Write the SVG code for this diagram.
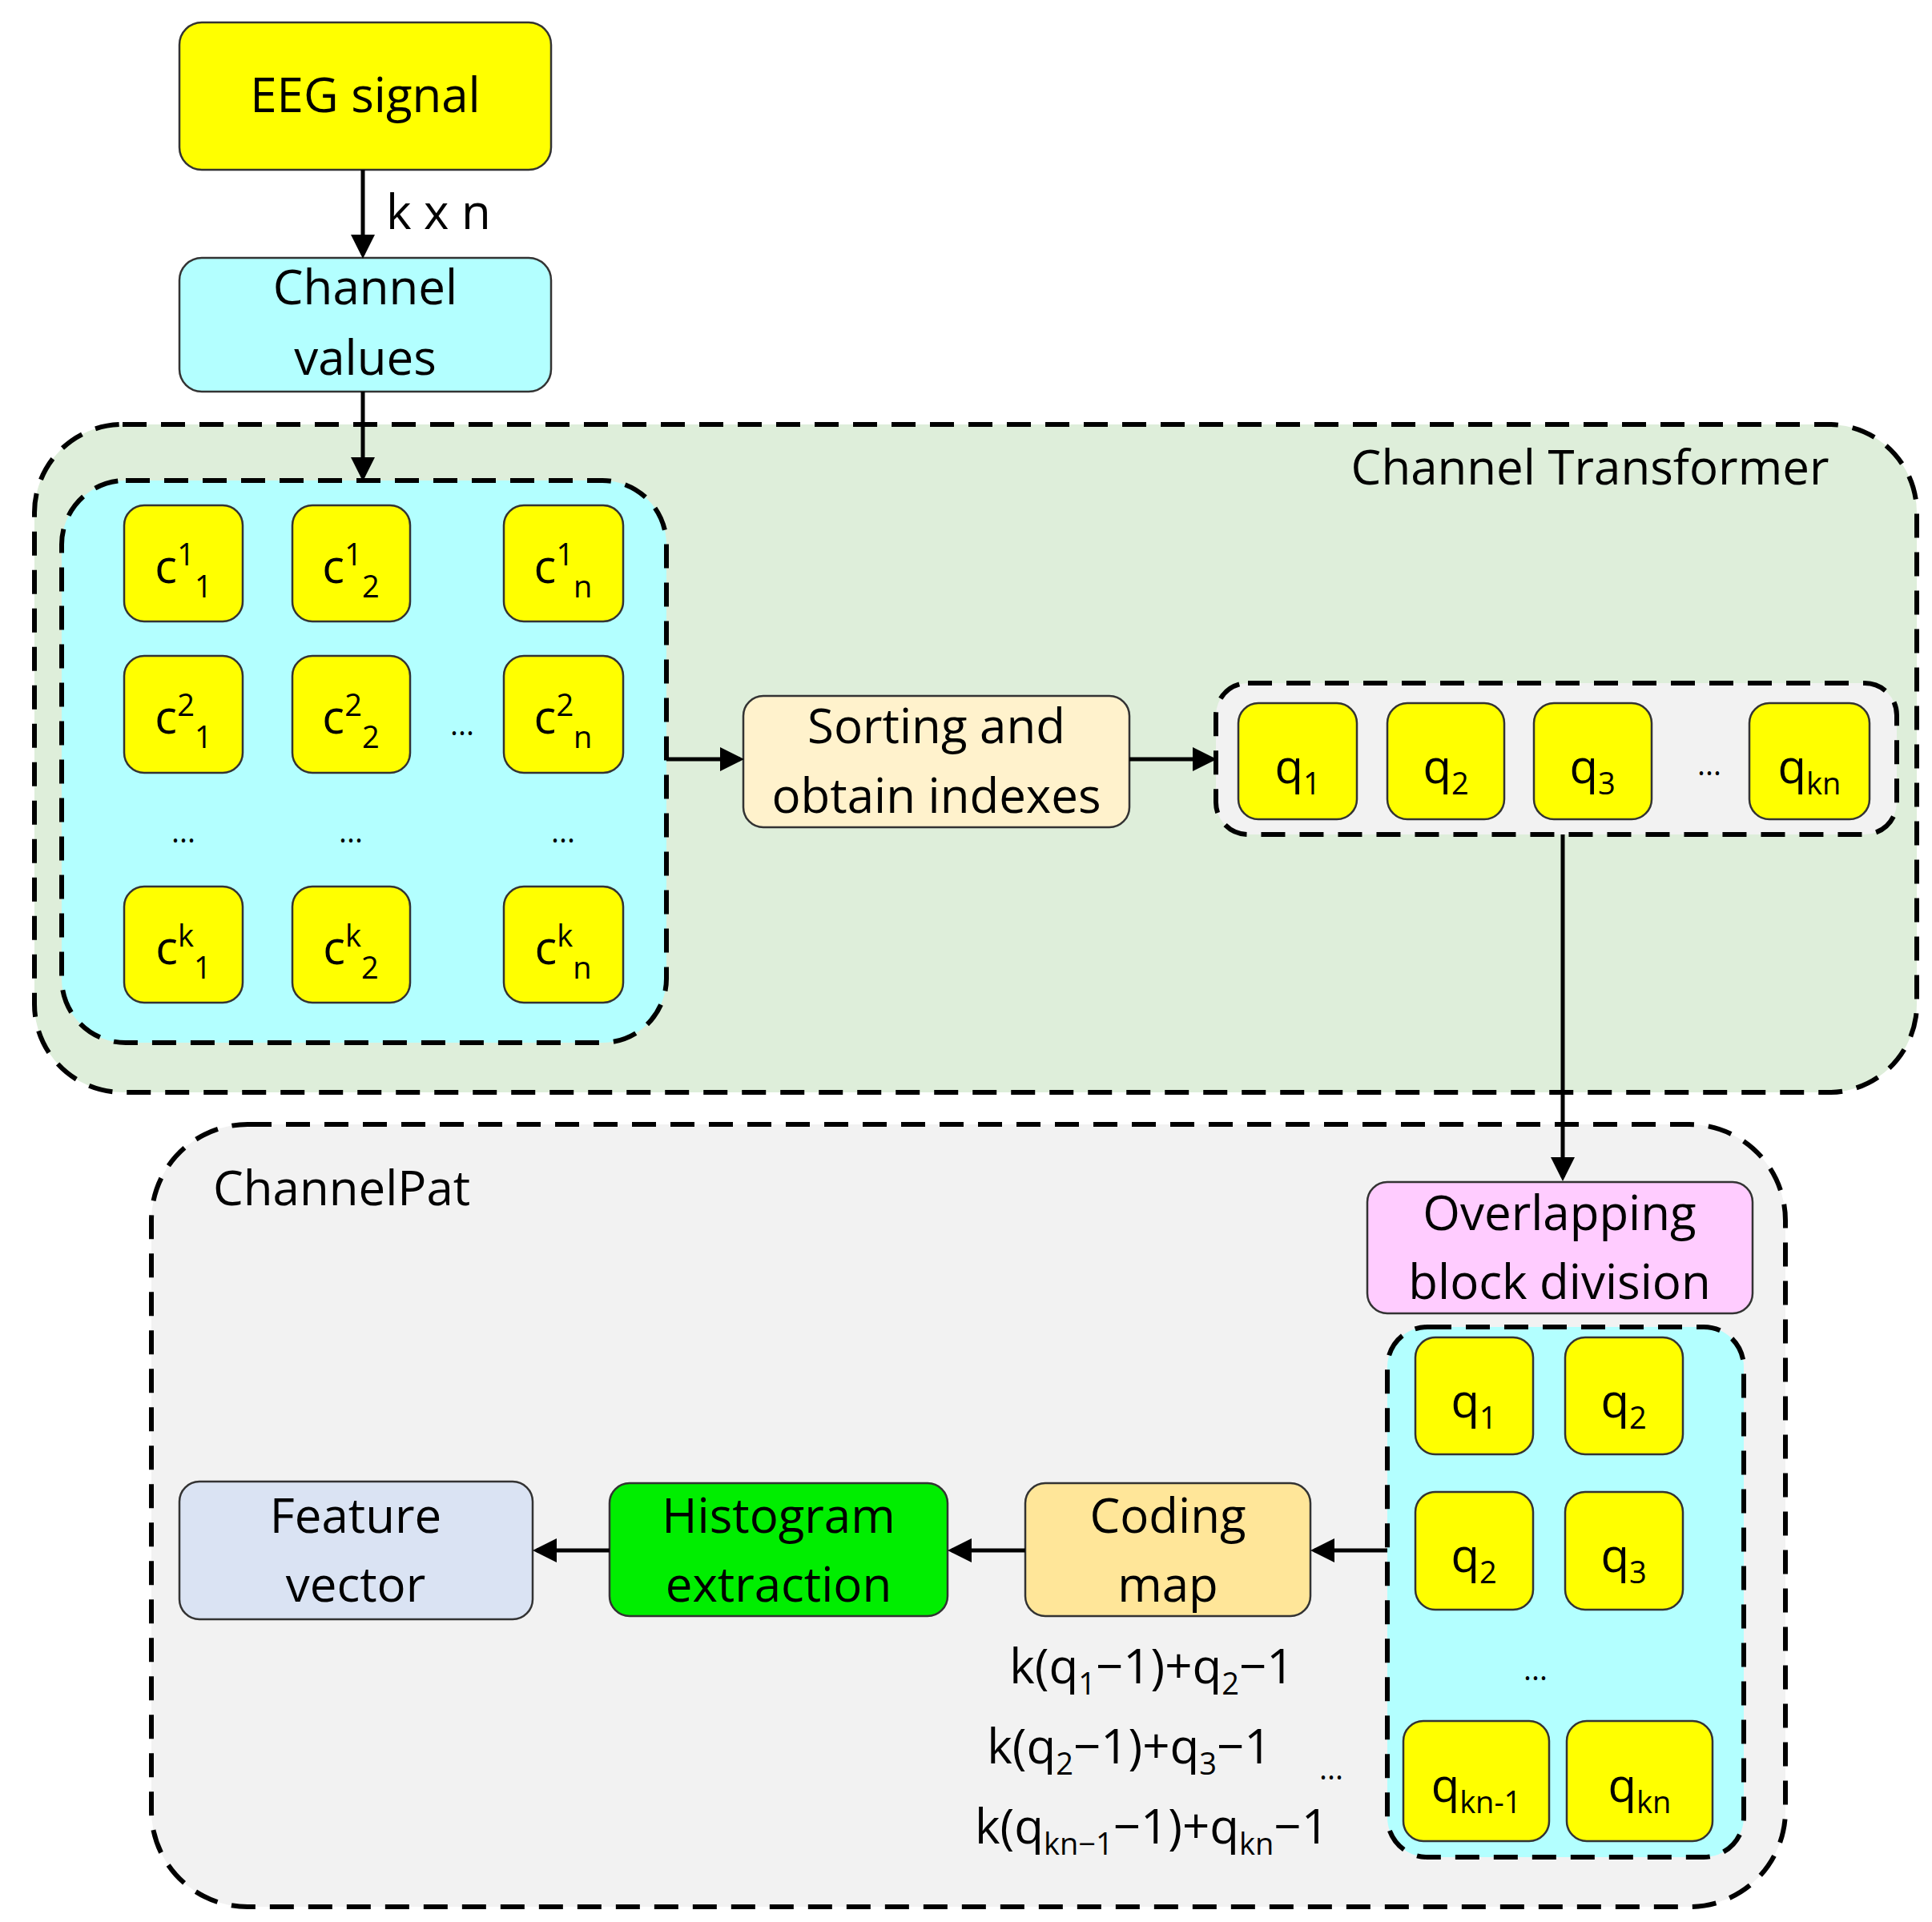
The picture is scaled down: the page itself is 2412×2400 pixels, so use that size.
<svg xmlns="http://www.w3.org/2000/svg" width="2412" height="2400" viewBox="0 0 2412 2400">
<style>
text{font-family:"Open Sans","Liberation Sans",sans-serif;fill:#000;text-anchor:middle}
.b{stroke:#333;stroke-width:2.5}
.y{fill:#ffff00;stroke:#333;stroke-width:2.5}
.d{stroke:#000;stroke-width:6;stroke-dasharray:30 18;fill-rule:nonzero}
.t{font-size:60px}
.c{font-size:58px}
.s{font-size:38px}
.a{stroke:#000;stroke-width:5;fill:none;marker-end:url(#ah)}
</style>
<defs><marker id="ah" markerWidth="6" markerHeight="6" refX="5" refY="3" orient="auto" markerUnits="strokeWidth"><path d="M0,0L6,3L0,6z" fill="#000"/></marker></defs>
<rect width="2412" height="2400" fill="#fff"/>
<g id="channel-transformer"><rect x="43" y="530" width="2350" height="834" rx="110" fill="#deeeda" class="d"/><text x="1985" y="605" class="t" style="text-anchor:middle">Channel Transformer</text></g>
<g id="channelpat"><rect x="189" y="1404" width="2040" height="977" rx="120" fill="#f2f2f2" class="d"/><text x="266" y="1505" class="t" style="text-anchor:start">ChannelPat</text></g>
<g id="eeg"><rect x="224" y="28" width="464" height="184" rx="28" class="y"/><text x="456" y="140" class="t">EEG signal</text></g>
<g id="channel-values"><rect x="224" y="322" width="464" height="167" rx="28" fill="#b3ffff" class="b"/><text x="456" y="380" class="t">Channel</text><text x="456" y="468" class="t">values</text></g>
<g id="matrix"><rect x="77" y="600" width="755" height="702" rx="80" fill="#b3ffff" class="d"/>
<g class="c">
<rect x="155" y="631" width="148" height="145" rx="25" class="y"/><text x="229" y="728" class="c">c<tspan class="s" dy="-22">1</tspan><tspan class="s" dy="40">1</tspan></text>
<rect x="365" y="631" width="147" height="145" rx="25" class="y"/><text x="438" y="728" class="c">c<tspan class="s" dy="-22">1</tspan><tspan class="s" dy="40">2</tspan></text>
<rect x="629" y="631" width="149" height="145" rx="25" class="y"/><text x="703" y="728" class="c">c<tspan class="s" dy="-22">1</tspan><tspan class="s" dy="40">n</tspan></text>
<rect x="155" y="819" width="148" height="146" rx="25" class="y"/><text x="229" y="916" class="c">c<tspan class="s" dy="-22">2</tspan><tspan class="s" dy="40">1</tspan></text>
<rect x="365" y="819" width="147" height="146" rx="25" class="y"/><text x="438" y="916" class="c">c<tspan class="s" dy="-22">2</tspan><tspan class="s" dy="40">2</tspan></text>
<rect x="629" y="819" width="149" height="146" rx="25" class="y"/><text x="703" y="916" class="c">c<tspan class="s" dy="-22">2</tspan><tspan class="s" dy="40">n</tspan></text>
<rect x="155" y="1107" width="148" height="145" rx="25" class="y"/><text x="229" y="1204" class="c">c<tspan class="s" dy="-22">k</tspan><tspan class="s" dy="40">1</tspan></text>
<rect x="365" y="1107" width="147" height="145" rx="25" class="y"/><text x="438" y="1204" class="c">c<tspan class="s" dy="-22">k</tspan><tspan class="s" dy="40">2</tspan></text>
<rect x="629" y="1107" width="149" height="145" rx="25" class="y"/><text x="703" y="1204" class="c">c<tspan class="s" dy="-22">k</tspan><tspan class="s" dy="40">n</tspan></text>
</g>
<text x="577" y="918" class="s">...</text><text x="229" y="1052" class="s">...</text><text x="438" y="1052" class="s">...</text><text x="703" y="1052" class="s">...</text>
</g>
<g id="sorting"><rect x="928" y="869" width="482" height="164" rx="25" fill="#fff2cc" class="b"/><text x="1169" y="928" class="t">Sorting and</text><text x="1169" y="1015" class="t">obtain indexes</text></g>
<g id="q-row"><rect x="1518" y="853" width="850" height="189" rx="40" fill="#f2f2f2" class="d"/>
<rect x="1546" y="878" width="148" height="145" rx="25" class="y"/><text x="1620" y="978" class="c">q<tspan class="s" dy="14">1</tspan></text>
<rect x="1732" y="878" width="146" height="145" rx="25" class="y"/><text x="1805" y="978" class="c">q<tspan class="s" dy="14">2</tspan></text>
<rect x="1915" y="878" width="147" height="145" rx="25" class="y"/><text x="1988" y="978" class="c">q<tspan class="s" dy="14">3</tspan></text>
<rect x="2184" y="878" width="150" height="145" rx="25" class="y"/><text x="2259" y="978" class="c">q<tspan class="s" dy="14">kn</tspan></text>
<text x="2134" y="968" class="s">...</text></g>
<g id="overlapping"><rect x="1707" y="1476" width="481" height="164" rx="25" fill="#ffccff" class="b"/><text x="1947" y="1536" class="t">Overlapping</text><text x="1947" y="1622" class="t">block division</text></g>
<g id="blocks"><rect x="1732" y="1657" width="445" height="662" rx="50" fill="#b3ffff" class="d"/>
<rect x="1767" y="1670" width="147" height="146" rx="25" class="y"/><text x="1840" y="1770" class="c">q<tspan class="s" dy="14">1</tspan></text>
<rect x="1954" y="1670" width="147" height="146" rx="25" class="y"/><text x="2027" y="1770" class="c">q<tspan class="s" dy="14">2</tspan></text>
<rect x="1767" y="1863" width="147" height="147" rx="25" class="y"/><text x="1840" y="1963" class="c">q<tspan class="s" dy="14">2</tspan></text>
<rect x="1954" y="1863" width="147" height="147" rx="25" class="y"/><text x="2027" y="1963" class="c">q<tspan class="s" dy="14">3</tspan></text>
<text x="1917" y="2098" class="s">...</text>
<rect x="1752" y="2149" width="182" height="150" rx="25" class="y"/><text x="1843" y="2250" class="c">q<tspan class="s" dy="14">kn-1</tspan></text>
<rect x="1956" y="2149" width="182" height="150" rx="25" class="y"/><text x="2047" y="2250" class="c">q<tspan class="s" dy="14">kn</tspan></text>
</g>
<g id="coding"><rect x="1280" y="1852" width="356" height="166" rx="25" fill="#ffe699" class="b"/><text x="1458" y="1914" class="t">Coding</text><text x="1458" y="2000" class="t">map</text></g>
<g id="histogram"><rect x="761" y="1852" width="422" height="166" rx="25" fill="#00ee00" class="b"/><text x="972" y="1914" class="t">Histogram</text><text x="972" y="2000" class="t">extraction</text></g>
<g id="feature"><rect x="224" y="1850" width="441" height="172" rx="25" fill="#dae3f3" class="b"/><text x="444" y="1914" class="t">Feature</text><text x="444" y="2000" class="t">vector</text></g>
<g id="formulas" class="t">
<text x="1438" y="2102" class="t">k(q<tspan class="s" dy="14">1</tspan><tspan dy="-14">−1)+q</tspan><tspan class="s" dy="14">2</tspan><tspan dy="-14">−1</tspan></text>
<text x="1410" y="2202" class="t">k(q<tspan class="s" dy="14">2</tspan><tspan dy="-14">−1)+q</tspan><tspan class="s" dy="14">3</tspan><tspan dy="-14">−1</tspan></text>
<text x="1662" y="2222" class="s">...</text>
<text x="1438" y="2302" class="t">k(q<tspan class="s" dy="14">kn−1</tspan><tspan dy="-14">−1)+q</tspan><tspan class="s" dy="14">kn</tspan><tspan dy="-14">−1</tspan></text>
</g>
<g id="connectors">
<line x1="453" y1="212" x2="453" y2="318" class="a"/>
<text x="482" y="286" class="t" style="text-anchor:start">k x n</text>
<line x1="453" y1="489" x2="453" y2="596" class="a"/>
<line x1="832" y1="948" x2="924" y2="948" class="a"/>
<line x1="1410" y1="948" x2="1514" y2="948" class="a"/>
<line x1="1951" y1="1042" x2="1951" y2="1470" class="a"/>
<line x1="1732" y1="1936" x2="1641" y2="1936" class="a"/>
<line x1="1280" y1="1936" x2="1188" y2="1936" class="a"/>
<line x1="761" y1="1936" x2="670" y2="1936" class="a"/>
</g>
</svg>
